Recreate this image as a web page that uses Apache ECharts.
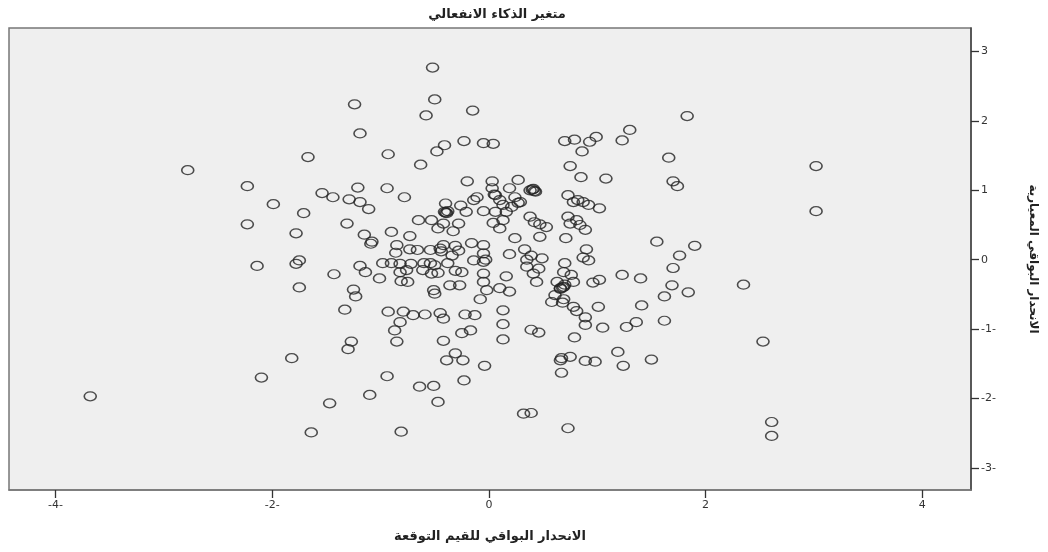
<!DOCTYPE html>
<html>
<head>
<meta charset="utf-8">
<script src="https://cdn.jsdelivr.net/npm/echarts@6/dist/echarts.min.js"></script>
<style>
  html, body { margin: 0; padding: 0; background: #fff; }
  #main { width: 1048px; height: 552px; }
</style>
</head>
<body>
<div id="main"></div>
<script>
// نص العنوان والمحاور
var chartTitle = 'متغير الذكاء الانفعالي';
var xTitle = 'الانحدار البواقي للقيم التوقعة';
var yTitle = 'الانحدار البواقي المعيارية';

var xTicks = [-4, -2, 0, 2, 4];
var yTicks = [-3, -2, -1, 0, 1, 2, 3];

// القيم المتوقعة (x) والبواقي (y)
var residX = [
  -0.52, -1.24, -0.50, -0.15, -0.58, -1.19, -0.93, -0.63, -0.41, -0.48,
  -0.23, -0.05, 0.04, 0.70, 0.79, 0.93, 0.99, 0.86, 1.23, 1.30,
  0.75, 0.85, 1.08, 1.66, 1.70, 1.74, -0.20, 0.03, 0.27, -1.21,
  -0.94, -1.44, -1.29, -1.19, -1.11, -0.78, -1.31, -1.15, -1.08, -0.90,
  -0.73, -0.65, -0.53, -0.47, -0.42, -0.40, -0.41, -0.39, -0.28, -0.33,
  -0.26, -0.21, -0.14, -0.11, -0.05, 0.03, 0.06, 0.10, 0.13, 0.19,
  0.24, 0.29, 0.38, 0.41, 0.42, 0.06, 0.16, 0.21, 0.27, 0.04,
  0.10, 0.13, 0.38, 0.42, 0.47, 0.53, 0.24, 0.47, 0.73, 0.78,
  0.82, 0.87, 0.92, 1.02, 0.73, 0.81, 0.84, 0.89, 0.75, 0.71,
  1.55, 0.90, 0.87, 0.92, 1.83, 3.02, 3.02, 1.90, 1.76, 1.70,
  1.69, 1.62, 1.84, 2.35, 1.62, 2.53, 2.61, 2.61,
  -1.09, -0.85, -0.86, -0.73, -0.66, -0.54, -0.42, -0.16, -0.05, -0.05,
  -0.28, -0.34, -0.14, -0.05, -0.98, -0.90, -0.82, -0.76, -0.82, -0.61,
  -0.54, -0.50, -0.47, -0.38, -0.31, -0.25, -0.53, -1.43, -1.19, -1.14,
  -1.01, -0.81, -0.75, -0.51, -0.50, -0.36, -0.27, -0.05, -0.05, -0.02,
  -0.08, 0.10, 0.19, 0.16, 0.19, 0.33, 0.39, 0.49, 0.35, 0.41,
  0.46, 0.44, 0.70, 0.69, 0.76, 0.63, 0.66, 0.69, 0.61, 0.58,
  0.69, 0.78, 0.78, 0.81, 0.89, 0.89, 0.96, 1.02, 1.01, 1.05,
  0.79, 1.23, 1.40, 1.41, 1.36, 1.27, 1.19, 1.24, 1.50, -1.33,
  -1.25, -1.23, -0.93, -0.79, -0.82, -0.87, -0.85, -0.70, -0.59, -0.45,
  -0.42, -0.22, -0.13, -0.25, -0.17, -0.42, 0.13, 0.13, 0.13, 0.39,
  0.46, -1.27, -1.30, -0.39, -0.31, -0.24, -0.04, 0.67, 0.75, 0.66,
  0.67, 0.89, 0.98, -0.94, -1.10, -0.64, -0.51, -0.47, -0.23, 0.32,
  0.39, 0.73, -0.81, -1.47,
  -2.14, -1.78, -1.75, -1.75, -1.82, -2.10, -3.68, -1.64, -1.67, -2.78,
  -2.23, -1.54, -1.99, -1.71, -2.23, -1.78,
  0.40, 0.43, -0.40, -0.38, -0.72, -0.60, -0.45, -0.44, -0.03, -0.31,
  0.70, 0.68, 0.68, 0.66, 0.05, 0.35
];
var residY = [
  2.77, 2.24, 2.31, 2.15, 2.08, 1.82, 1.52, 1.37, 1.65, 1.56,
  1.71, 1.68, 1.67, 1.71, 1.73, 1.70, 1.77, 1.56, 1.72, 1.87,
  1.35, 1.19, 1.17, 1.47, 1.13, 1.06, 1.13, 1.13, 1.15, 1.04,
  1.03, 0.90, 0.87, 0.83, 0.73, 0.90, 0.52, 0.36, 0.26, 0.40,
  0.34, 0.57, 0.57, 0.45, 0.52, 0.81, 0.69, 0.67, 0.52, 0.41,
  0.78, 0.69, 0.86, 0.90, 0.70, 1.03, 0.93, 0.86, 0.79, 1.03,
  0.90, 0.83, 1.00, 1.02, 0.99, 0.69, 0.69, 0.76, 0.82, 0.53,
  0.45, 0.57, 0.62, 0.54, 0.51, 0.47, 0.31, 0.33, 0.93, 0.83,
  0.86, 0.83, 0.79, 0.74, 0.62, 0.57, 0.50, 0.43, 0.52, 0.31,
  0.26, 0.15, 0.03, -0.01, 2.07, 1.35, 0.70, 0.20, 0.06, -0.12,
  -0.37, -0.53, -0.47, -0.36, -0.88, -1.18, -2.34, -2.54,
  0.23, 0.21, 0.10, 0.15, 0.14, 0.14, 0.21, 0.24, 0.21, 0.09,
  0.13, 0.06, -0.01, -0.03, -0.05, -0.05, -0.06, -0.15, -0.18, -0.15,
  -0.05, -0.08, -0.19, -0.05, -0.16, -0.18, -0.20, -0.21, -0.09, -0.18,
  -0.27, -0.31, -0.32, -0.44, -0.49, -0.37, -0.37, -0.20, -0.32, -0.44,
  -0.57, -0.41, -0.46, -0.24, 0.08, 0.15, 0.06, 0.02, -0.10, -0.20,
  -0.13, -0.32, -0.05, -0.18, -0.22, -0.32, -0.41, -0.39, -0.51, -0.61,
  -0.57, -0.32, -0.68, -0.74, -0.83, -0.94, -0.33, -0.29, -0.68, -0.98,
  -1.12, -0.22, -0.27, -0.66, -0.90, -0.97, -1.33, -1.53, -1.44, -0.72,
  -0.43, -0.53, -0.75, -0.75, -0.90, -1.02, -1.18, -0.80, -0.79, -0.77,
  -0.85, -0.79, -0.80, -1.06, -1.02, -1.17, -0.73, -0.93, -1.15, -1.01,
  -1.05, -1.18, -1.29, -1.45, -1.35, -1.45, -1.53, -1.42, -1.40, -1.45,
  -1.63, -1.46, -1.47, -1.68, -1.95, -1.83, -1.82, -2.05, -1.74, -2.22,
  -2.21, -2.43, -2.48, -2.07,
  -0.09, -0.06, -0.01, -0.40, -1.42, -1.70, -1.97, -2.49, 1.48, 1.29,
  1.06, 0.96, 0.80, 0.67, 0.51, 0.38,
  1.01, 0.98, 0.68, 0.70, -0.06, -0.05, 0.16, 0.12, 0.00, 0.20,
  -0.36, -0.40, -0.62, -0.42, 0.94, 0.00
];

var points = residX.map(function (x, i) { return [x, residY[i]]; });

var txt = '#333';
var fnt = 'DejaVu Sans';

function tickLabel(v) {
    return v < 0 ? '-' + Math.abs(v) + '-' : String(v);
}

echarts.init(document.getElementById('main')).setOption({
    backgroundColor: '#fff',
    animation: false,
    title: {
        text: chartTitle,
        left: 492,
        top: 3,
        textAlign: 'center',
        textStyle: { fontFamily: fnt, fontSize: 13, fontWeight: 'bold', color: '#222' }
    },
    grid: {
        left: 9,
        right: 77,
        top: 28,
        bottom: 62,
        show: true,
        backgroundColor: '#efefef',
        borderColor: '#777',
        borderWidth: 1.5
    },
    xAxis: {
        type: 'value',
        min: -4.43,
        max: 4.45,
        name: xTitle,
        nameLocation: 'middle',
        nameGap: 40,
        nameTextStyle: { fontFamily: fnt, fontSize: 13, fontWeight: 'bold', color: '#222' },
        axisLine: { show: true, onZero: false, lineStyle: { color: '#777', width: 1.5 } },
        axisTick: { show: true, length: 8, customValues: xTicks, lineStyle: { color: '#333', width: 1.3 } },
        axisLabel: { customValues: xTicks, formatter: tickLabel, margin: 10, fontFamily: fnt, fontSize: 11, color: txt },
        splitLine: { show: false }
    },
    yAxis: {
        type: 'value',
        position: 'right',
        min: -3.32,
        max: 3.34,
        name: yTitle,
        nameLocation: 'middle',
        nameRotate: -90,
        nameGap: 56,
        nameTextStyle: { fontFamily: fnt, fontSize: 12, fontWeight: 'bold', color: '#222' },
        axisLine: { show: true, onZero: false, lineStyle: { color: '#444', width: 1.5 } },
        axisTick: { show: true, length: 8, customValues: yTicks, lineStyle: { color: '#333', width: 1.3 } },
        axisLabel: { customValues: yTicks, formatter: tickLabel, margin: 10, fontFamily: fnt, fontSize: 11, color: txt },
        splitLine: { show: false }
    },
    series: [{
        type: 'scatter',
        data: points,
        symbol: 'circle',
        symbolSize: [12, 9],
        itemStyle: {
            color: 'rgba(0,0,0,0)',
            borderColor: '#222',
            borderWidth: 1.4
        }
    }]
});
</script>
</body>
</html>
